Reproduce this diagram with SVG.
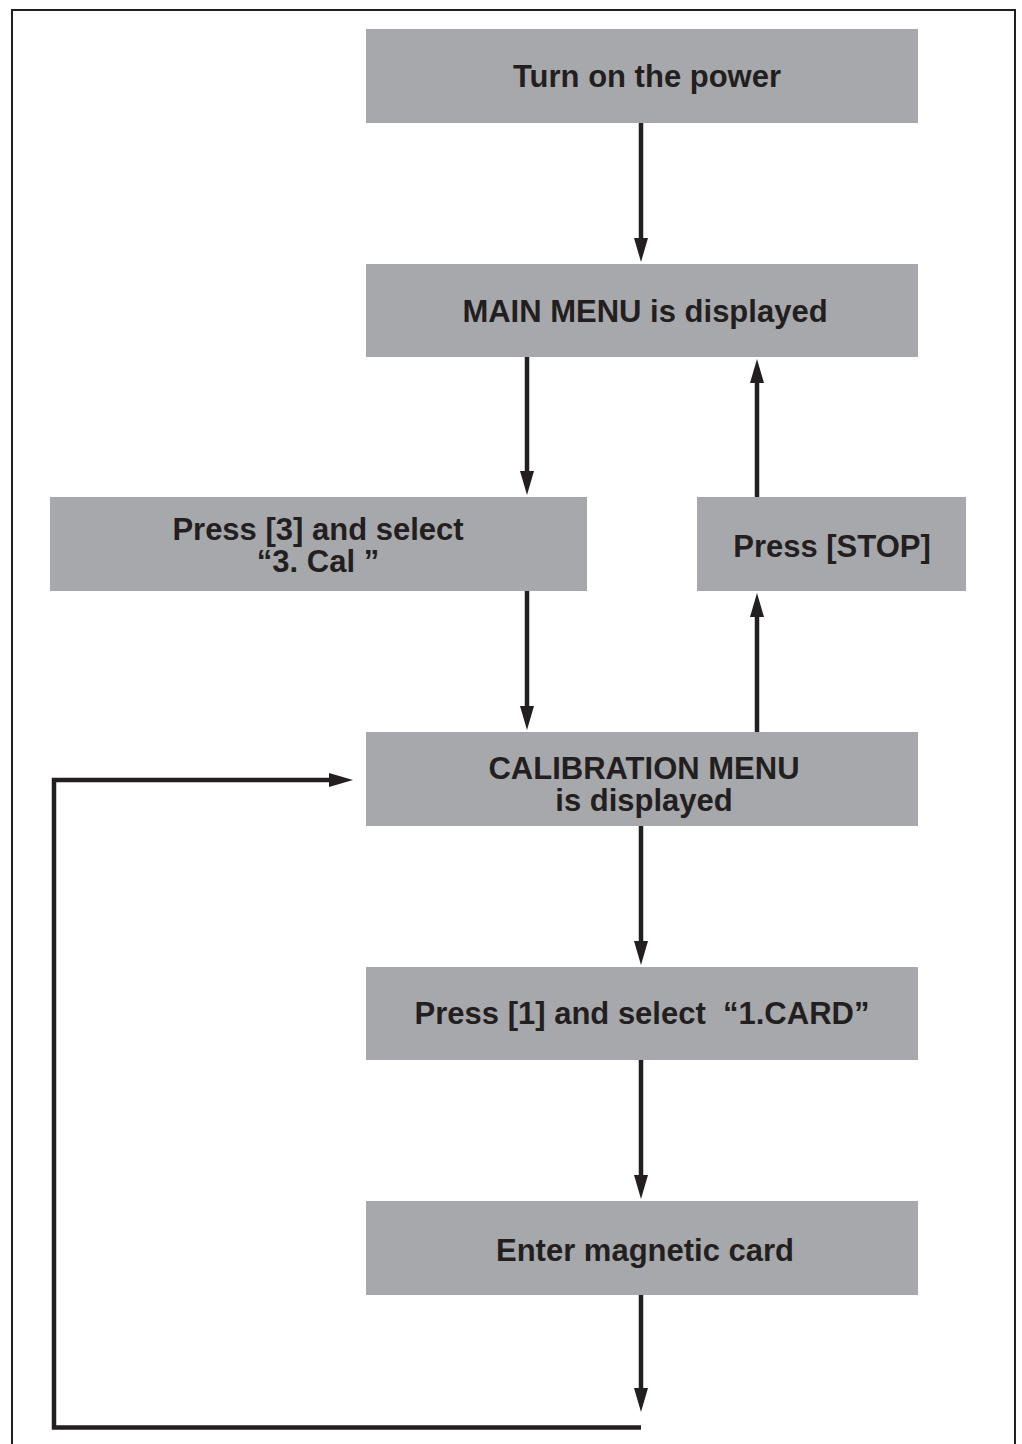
<svg xmlns="http://www.w3.org/2000/svg" width="1022" height="1444" viewBox="0 0 1022 1444">
<style>
.box{fill:#a7a8ab}
.lbl{font-family:"Liberation Sans",Arial,sans-serif;font-weight:bold;font-size:31px;fill:#231f20;text-anchor:middle}
.con{stroke:#231f20;stroke-width:4.5;fill:none}
</style>
<defs>
<marker id="ah" markerUnits="userSpaceOnUse" markerWidth="24" markerHeight="14" refX="12" refY="7" orient="auto" viewBox="0 0 24 14">
<path d="M0,0 L24,7 L0,14 z" fill="#231f20"/>
</marker>
</defs>
<rect x="12" y="10" width="1003" height="1450" fill="#fff" stroke="#231f20" stroke-width="2"/>
<g id="n1"><rect class="box" x="366" y="29" width="552" height="94"/><text class="lbl" x="647" y="87">Turn on the power</text></g>
<g id="n2"><rect class="box" x="366" y="264" width="552" height="93"/><text class="lbl" x="645" y="322">MAIN MENU is displayed</text></g>
<g id="n3"><rect class="box" x="50" y="497" width="537" height="94"/><text class="lbl" x="318" y="540">Press [3] and select</text><text class="lbl" x="318" y="572">“3. Cal ”</text></g>
<g id="n4"><rect class="box" x="697" y="497" width="269" height="94"/><text class="lbl" x="832" y="557">Press [STOP]</text></g>
<g id="n5"><rect class="box" x="366" y="732" width="552" height="94"/><text class="lbl" x="644" y="779">CALIBRATION MENU</text><text class="lbl" x="644" y="811">is displayed</text></g>
<g id="n6"><rect class="box" x="366" y="967" width="552" height="93"/><text class="lbl" x="642" y="1024" xml:space="preserve">Press [1] and select  “1.CARD”</text></g>
<g id="n7"><rect class="box" x="366" y="1201" width="552" height="94"/><text class="lbl" x="645" y="1261">Enter magnetic card</text></g>
<g id="connectors">
<line class="con" x1="641" y1="123" x2="641" y2="250" marker-end="url(#ah)"/>
<line class="con" x1="527" y1="357" x2="527" y2="483" marker-end="url(#ah)"/>
<line class="con" x1="527" y1="591" x2="527" y2="718" marker-end="url(#ah)"/>
<line class="con" x1="757" y1="732" x2="757" y2="605" marker-end="url(#ah)"/>
<line class="con" x1="757" y1="497" x2="757" y2="371" marker-end="url(#ah)"/>
<line class="con" x1="641" y1="826" x2="641" y2="953" marker-end="url(#ah)"/>
<line class="con" x1="641" y1="1060" x2="641" y2="1187" marker-end="url(#ah)"/>
<line class="con" x1="641" y1="1295" x2="641" y2="1400" marker-end="url(#ah)"/>
<path class="con" d="M641,1427.5 H54 V780 H341" marker-end="url(#ah)" stroke-width="5"/>
</g>
</svg>
